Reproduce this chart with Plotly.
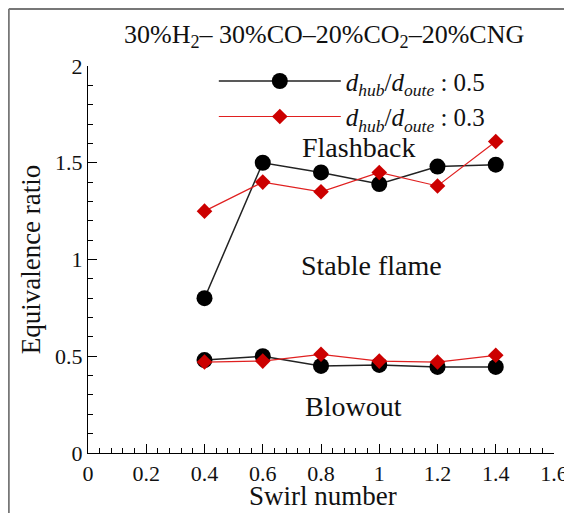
import plotly.graph_objects as go

swirl = [0.4, 0.6, 0.8, 1.0, 1.2, 1.4]
hub05_upper = [0.80, 1.50, 1.45, 1.39, 1.48, 1.49]
hub05_lower = [0.48, 0.50, 0.45, 0.455, 0.445, 0.445]
hub03_upper = [1.25, 1.40, 1.35, 1.45, 1.38, 1.61]
hub03_lower = [0.47, 0.475, 0.51, 0.475, 0.47, 0.505]

x_ticks = [0, 0.2, 0.4, 0.6, 0.8, 1, 1.2, 1.4, 1.6]
x_ticktext = ["0", "0.2", "0.4", "0.6", "0.8", "1", "1.2", "1.4", "1.6"]
y_ticks = [0, 0.5, 1, 1.5, 2]
y_ticktext = ["0", "0.5", "1", "1.5", "2"]

legend_05 = "<i>d</i><sub><i>hub</i></sub>/<i>d</i><sub><i>oute</i></sub> : 0.5"
legend_03 = "<i>d</i><sub><i>hub</i></sub>/<i>d</i><sub><i>oute</i></sub> : 0.3"
title_text = "30%H<sub>2</sub>– 30%CO–20%CO<sub>2</sub>–20%CNG"

FONT = "Liberation Serif"
black_marker = dict(symbol="circle", size=16, color="black")
red_marker = dict(symbol="diamond", size=12, color="#cc0000")

fig = go.Figure()
fig.add_trace(go.Scatter(x=swirl, y=hub05_upper, mode="lines+markers", name=legend_05,
                         line=dict(color="#222", width=1.5), marker=black_marker,
                         legendgroup="a"))
fig.add_trace(go.Scatter(x=swirl, y=hub03_upper, mode="lines+markers", name=legend_03,
                         line=dict(color="#e02020", width=1.2), marker=red_marker,
                         legendgroup="b"))
fig.add_trace(go.Scatter(x=swirl, y=hub05_lower, mode="lines+markers", name=legend_05,
                         line=dict(color="#222", width=1.5), marker=black_marker,
                         legendgroup="a", showlegend=False))
fig.add_trace(go.Scatter(x=swirl, y=hub03_lower, mode="lines+markers", name=legend_03,
                         line=dict(color="#e02020", width=1.2), marker=red_marker,
                         legendgroup="b", showlegend=False))

axis_common = dict(showline=True, linecolor="black", linewidth=1.2, ticks="inside",
                   ticklen=9, tickwidth=1, tickcolor="black", showgrid=False, zeroline=False,
                   automargin=False,
                   tickfont=dict(family=FONT, size=22, color="#111"))

fig.update_xaxes(range=[0, 1.6], tickvals=x_ticks, ticktext=x_ticktext,
                 minor=dict(dtick=0.04, ticks="inside", ticklen=5, tickcolor="black", tickwidth=1),
                 **axis_common)
fig.update_yaxes(range=[0, 2], tickvals=y_ticks, ticktext=y_ticktext,
                 minor=dict(dtick=0.1, ticks="inside", ticklen=5, tickcolor="black", tickwidth=1),
                 title=dict(text="Equivalence ratio", font=dict(family=FONT, size=27, color="#111"), standoff=6),
                 **axis_common)

# x-axis title placed as text just under the tick labels
fig.add_annotation(xref="paper", yref="paper", x=0.505, y=-0.11, text="Swirl number",
                   showarrow=False, yanchor="middle",
                   font=dict(family=FONT, size=27, color="#111"))

for txt, xx, yy in [("Flashback", 0.93, 1.58), ("Stable flame", 0.975, 0.97), ("Blowout", 0.91, 0.24)]:
    fig.add_annotation(x=xx, y=yy, text=txt, showarrow=False,
                       font=dict(family=FONT, size=28, color="#111"))

fig.add_annotation(xref="paper", yref="paper", x=0.507, y=1.077, text=title_text, showarrow=False,
                   font=dict(family=FONT, size=26, color="#111"), yanchor="middle")

# outer frame (left and top edges)
fig.add_shape(type="line", xref="paper", yref="paper", x0=-0.170, x1=-0.170, y0=-0.2, y1=1.147,
              line=dict(color="#777", width=2))
fig.add_shape(type="line", xref="paper", yref="paper", x0=-0.170, x1=1.1, y0=1.147, y1=1.147,
              line=dict(color="#777", width=2))

fig.update_layout(
    width=564, height=505,
    margin=dict(l=80, r=18, t=58, b=60, autoexpand=False),
    plot_bgcolor="white", paper_bgcolor="white",
    font=dict(family=FONT, color="#111"),
    showlegend=True,
    legend=dict(x=0.27, y=1.02, xanchor="left", yanchor="top", bgcolor="rgba(0,0,0,0)",
                font=dict(family=FONT, size=25, color="#111"), itemwidth=122,
                tracegroupgap=0),
)

fig.write_html("out.html")
